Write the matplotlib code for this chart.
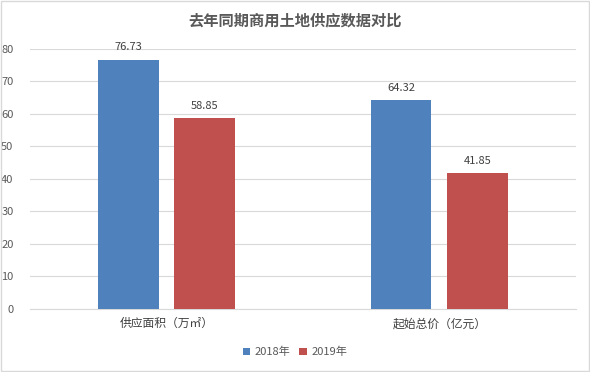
import matplotlib.pyplot as plt
import numpy as np

plt.rcParams["font.family"] = ["Noto Sans CJK SC", "DejaVu Sans"]

categories = ["供应面积（万㎡）", "起始总价（亿元）"]
series_names = ["2018年", "2019年"]
values_2018 = [76.73, 64.32]
values_2019 = [58.85, 41.85]
y_ticks = [0, 10, 20, 30, 40, 50, 60, 70, 80]


def main():
    fig = plt.figure(figsize=(5.9, 3.72), dpi=100)
    ax = fig.add_axes([0.051, 0.1694, 0.925, 0.699])

    x = np.arange(len(categories))
    width = 0.223
    gap = 0.058
    text_color = "#595959"

    bars_a = ax.bar(x - (width + gap) / 2, values_2018, width,
                    color="#4F81BD", label=series_names[0], zorder=3)
    bars_b = ax.bar(x + (width + gap) / 2, values_2019, width,
                    color="#C0504D", label=series_names[1], zorder=3)
    for bar in list(bars_a) + list(bars_b):
        h = bar.get_height()
        ax.text(bar.get_x() + bar.get_width() / 2, h + 2.2, f"{h:.2f}",
                ha="center", va="bottom", fontsize=8, color="#404040")

    ax.set_xlim(-0.5, 1.5)
    ax.set_ylim(0, 80)
    ax.set_yticks(y_ticks)
    ax.set_xticks(x)
    ax.set_xticklabels(categories, fontsize=8.5, color="#404040")
    ax.tick_params(axis="y", labelsize=8, labelcolor=text_color, length=0, pad=12)
    ax.tick_params(axis="x", length=0, pad=6)
    ax.grid(axis="y", color="#D9D9D9", linewidth=0.8, zorder=0)
    for side in ["top", "right", "left"]:
        ax.spines[side].set_visible(False)
    ax.spines["bottom"].set_color("#D9D9D9")

    fig.text(0.5, 0.945, "去年同期商用土地供应数据对比", ha="center", va="center",
             fontsize=11, fontweight="bold", color="#595959")
    fig.legend(loc="center", bbox_to_anchor=(0.5, 0.053), ncol=2, frameon=False,
               fontsize=8, handlelength=0.7, handleheight=0.7, handletextpad=0.4,
               columnspacing=0.8, labelcolor=text_color)

    fig.patches.append(plt.Rectangle((0.002, 0.003), 0.996, 0.994,
                                     transform=fig.transFigure, fill=False,
                                     edgecolor="#D9D9D9", linewidth=1))
    fig.savefig("out.png", dpi=100)
    plt.close(fig)


if __name__ == "__main__":
    main()
